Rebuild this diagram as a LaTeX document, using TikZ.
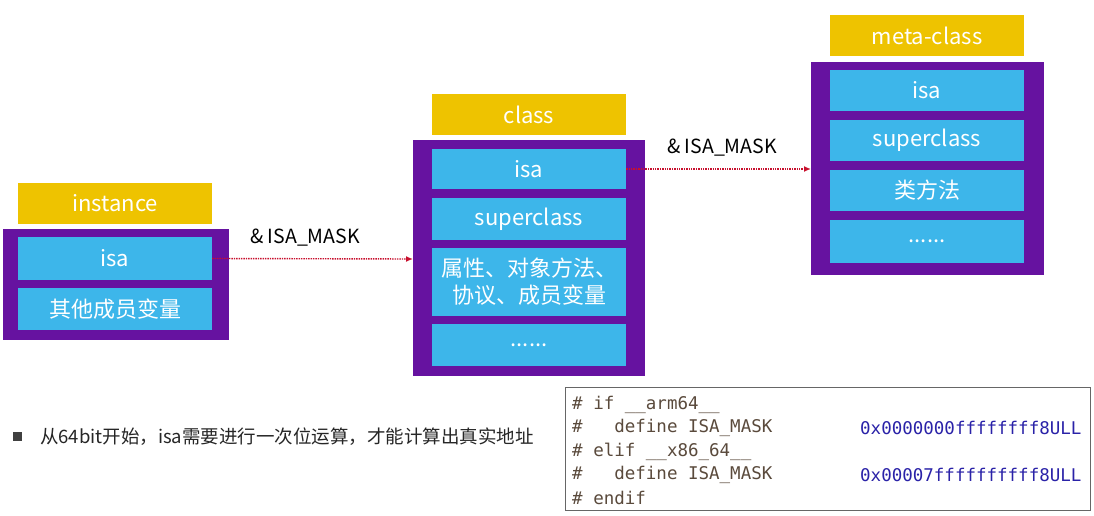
\documentclass[tikz,border=0pt]{standalone}
\usepackage{fontspec}
\setmainfont{Noto Sans CJK SC}
\setmonofont{DejaVu Sans Mono}
\usetikzlibrary{arrows.meta}
\definecolor{ylw}{HTML}{EEC300}
\definecolor{prp}{HTML}{6612A0}
\definecolor{cyn}{HTML}{3DB6EA}
\definecolor{codec}{HTML}{5A4A3C}
\definecolor{hexc}{HTML}{2A22A8}
\definecolor{arr}{HTML}{C8102E}
\begin{document}
\begin{tikzpicture}[x=1pt,y=-1pt,
  box/.style={draw=none,inner sep=0pt,text=white,font=\fontsize{22}{27}\selectfont},
  title/.style={box,fill=ylw},
  cell/.style={box,fill=cyn},
  outer/.style={fill=prp},
  link/.style={draw=arr,densely dotted,line width=1.4pt,-{Latex[length=7pt,width=6pt]}},
  lbl/.style={font=\fontsize{19.5}{22}\selectfont,text=black},
  code/.style={font=\ttfamily\fontsize{17.5}{20}\selectfont,text=codec,anchor=west,inner sep=0pt}]
\useasboundingbox (0,0) rectangle (1094,516);
\fill[white] (0,0) rectangle (1094,516);
% instance
\node[title,minimum width=194pt,minimum height=41pt] (it) at (115,203.5) {instance};
\fill[outer] (3,229) rectangle (229,340);
\coordinate (iR) at (229,259);
\node[cell,minimum width=194pt,minimum height=43pt] (iisa) at (115,258.5) {isa};
\node[cell,minimum width=194pt,minimum height=42pt] (iother) at (115,309) {其他成员变量};
% class
\node[title,minimum width=194pt,minimum height=41pt] (ct) at (529,114.5) {class};
\fill[outer] (413,140) rectangle (645,376);
\coordinate (cL) at (413,259);
\node[cell,minimum width=194pt,minimum height=40pt] (cisa) at (529,169) {isa};
\node[cell,minimum width=194pt,minimum height=42pt] (csup) at (529,219) {superclass};
\node[cell,minimum width=194pt,minimum height=68pt,align=center] (cprop) at (529,282) {属性、对象方法、\\协议、成员变量};
\node[cell,minimum width=194pt,minimum height=42pt] (cdots) at (529,345) {......};
% meta
\node[title,minimum width=194pt,minimum height=41pt] (mt) at (927,35.5) {meta-class};
\fill[outer] (811,62) rectangle (1044,275);
\coordinate (mL) at (811,169);
\node[cell,minimum width=194pt,minimum height=41pt] (misa) at (927,90.5) {isa};
\node[cell,minimum width=194pt,minimum height=41pt] (msup) at (927,140.5) {superclass};
\node[cell,minimum width=194pt,minimum height=41pt] (mcls) at (927,190.5) {类方法};
\node[cell,minimum width=194pt,minimum height=43pt] (mdots) at (927,241.5) {......};
% arrows
\draw[link] (iisa.east) -- (cL);
\draw[link] (cisa.east) -- (mL);
\node[lbl] (l1) at (305,238) {\& ISA\_MASK};
\node[lbl] (l2) at (722,148) {\& ISA\_MASK};
% bullet
\fill[black!75] (13,432) rectangle (22,441);
\node[anchor=west,inner sep=0pt,font=\fontsize{18.5}{20}\selectfont,text=black!85] (note) at (40,437) {从64bit开始，isa需要进行一次位运算，才能计算出真实地址};
% code
\draw[black!60,line width=0.8pt] (565,387) rectangle (1090,510);
\node[code] (c1) at (572,405) {\# if \_\_arm64\_\_};
\node[code] (c2) at (572,428) {\#\ \ \ define ISA\_MASK};
\node[code,text=hexc] (h1) at (860,428) {0x0000000ffffffff8ULL};
\node[code] (c3) at (572,452) {\# elif \_\_x86\_64\_\_};
\node[code] (c4) at (572,475) {\#\ \ \ define ISA\_MASK};
\node[code,text=hexc] (h2) at (860,475) {0x00007ffffffffff8ULL};
\node[code] (c5) at (572,498) {\# endif};
\end{tikzpicture}
\end{document}
